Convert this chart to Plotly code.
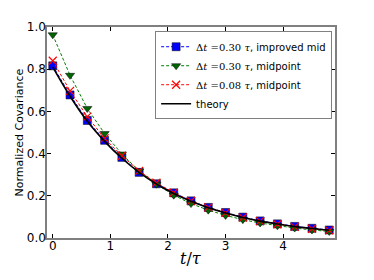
import plotly.graph_objects as go

t = [0.0, 0.3, 0.6, 0.9, 1.2, 1.5, 1.8, 2.1, 2.4, 2.7, 3.0, 3.3, 3.6, 3.9, 4.2, 4.5, 4.8]
improved_mid = [0.816, 0.678, 0.557, 0.463, 0.382, 0.311, 0.257, 0.214, 0.176, 0.145, 0.121,
                0.099, 0.081, 0.067, 0.055, 0.046, 0.038]
midpoint_030 = [0.963, 0.771, 0.614, 0.495, 0.398, 0.318, 0.255, 0.203, 0.163, 0.132, 0.107,
                0.087, 0.071, 0.058, 0.047, 0.038, 0.031]
midpoint_008 = [0.840, 0.697, 0.575, 0.472, 0.390, 0.318, 0.262, 0.215, 0.176, 0.145, 0.119,
                0.097, 0.080, 0.065, 0.053, 0.044, 0.036]
theory = [0.810, 0.672, 0.553, 0.458, 0.378, 0.311, 0.256, 0.211, 0.174, 0.143, 0.118,
          0.097, 0.080, 0.066, 0.054, 0.045, 0.037]

x_ticks = [0, 1, 2, 3, 4]
y_ticks = [0.0, 0.2, 0.4, 0.6, 0.8, 1.0]
y_ticklabels = ["0.0", "0.2", "0.4", "0.6", "0.8", "1.0"]

serif = "DejaVu Serif"


def mlabel(dt, rest):
    return (f'<span style="font-family:{serif}">Δ<i>t</i> ={dt} <i>τ</i></span>, {rest}')


fig = go.Figure()
fig.add_trace(go.Scatter(
    x=t, y=improved_mid, mode="lines+markers", name=mlabel("0.30", "improved mid"),
    line=dict(color="#0000ff", width=1, dash="3px,2px"),
    marker=dict(symbol="square", size=8, color="#0000ff", line=dict(color="#000000", width=0.5)),
))
fig.add_trace(go.Scatter(
    x=t, y=midpoint_030, mode="lines+markers", name=mlabel("0.30", "midpoint"),
    line=dict(color="#008000", width=1, dash="3px,2px"),
    marker=dict(symbol="triangle-down", size=8, color="#006400", line=dict(color="#000000", width=0.5)),
))
fig.add_trace(go.Scatter(
    x=t, y=midpoint_008, mode="lines+markers", name=mlabel("0.08", "midpoint"),
    line=dict(color="#ff0000", width=1, dash="3px,2px"),
    marker=dict(symbol="x-thin", size=8, color="#ff0000", line=dict(color="#ff0000", width=1.2)),
))
fig.add_trace(go.Scatter(
    x=t, y=theory, mode="lines", name="theory",
    line=dict(color="#000000", width=1.6, shape="spline"),
))

axis_common = dict(
    showgrid=False, zeroline=False, showline=True, mirror="ticks",
    linecolor="#808080", linewidth=1.5, ticks="inside", ticklen=4,
    tickcolor="#000000", tickwidth=1, automargin=False,
    tickfont=dict(family="DejaVu Sans", size=12, color="#000000"),
)

# page body has an 8px default margin, so the figure is 8px smaller than the window
fig.update_layout(
    width=366, height=272,
    margin=dict(l=39, r=39, t=19, b=42),
    paper_bgcolor="#ffffff", plot_bgcolor="#ffffff",
    showlegend=True,
    legend=dict(
        x=0.99, y=0.98, xanchor="right", yanchor="top",
        bgcolor="#ffffff", bordercolor="#808080", borderwidth=1,
        font=dict(family="DejaVu Sans", size=10, color="#000000"),
        tracegroupgap=0, itemwidth=30,
    ),
    xaxis=dict(
        range=[-0.1, 4.9], tickvals=x_ticks, ticklabelstandoff=-4,
        **axis_common,
    ),
    yaxis=dict(
        range=[0.0, 1.0], tickvals=y_ticks, ticktext=y_ticklabels, ticklabelstandoff=-3,
        **axis_common,
    ),
    annotations=[
        dict(
            text="<i>t</i>/<i>τ</i>", xref="paper", yref="paper", x=0.5, y=-0.095,
            xanchor="center", yanchor="middle", showarrow=False,
            font=dict(family=serif, size=16, color="#000000"),
        ),
        dict(
            text="Normalized Covariance", xref="paper", yref="paper", x=-0.094, y=0.5,
            xanchor="center", yanchor="middle", showarrow=False, textangle=-90,
            font=dict(family="DejaVu Sans", size=11, color="#000000"),
        ),
    ],
)

fig.write_html("out.html")
